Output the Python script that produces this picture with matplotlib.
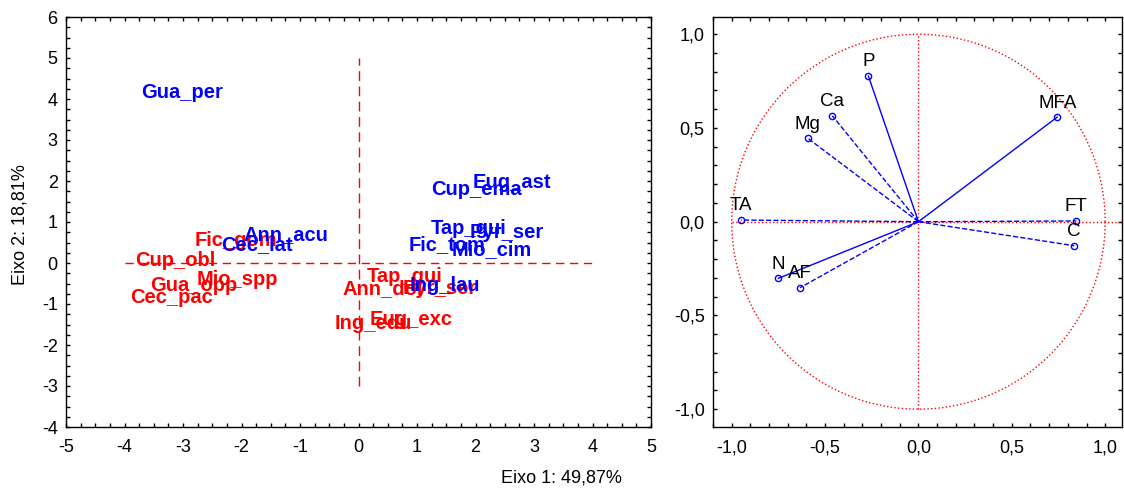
import matplotlib
matplotlib.use('Agg')
import matplotlib.pyplot as plt
import numpy as np
from matplotlib.ticker import MultipleLocator, FuncFormatter

plt.rcParams['font.family'] = ['Liberation Sans', 'DejaVu Sans']

# species scores on the first two axes (blue group)
blue_names = ['Gua_per', 'Eug_ast', 'Cup_ema', 'Tap_gui', 'Pyr_ser', 'Fic_tom',
              'Mio_cim', 'Ann_acu', 'Cec_lat', 'Ing_lau']
blue_x = [-3.71, 1.95, 1.25, 1.23, 1.90, 0.85, 1.59, -1.97, -2.35, 0.88]
blue_y = [4.15, 1.96, 1.80, 0.85, 0.74, 0.44, 0.33, 0.70, 0.46, -0.54]

# species scores (red group)
red_names = ['Fic_gom', 'Cup_obl', 'Gua_opp', 'Mio_spp', 'Cec_pac', 'Tap_gui',
             'Ann_dol', 'Pyr_ser', 'Ing_edu', 'Eug_exc']
red_x = [-2.80, -3.81, -3.57, -2.77, -3.91, 0.14, -0.27, 0.76, -0.41, 0.19]
red_y = [0.54, 0.05, -0.54, -0.41, -0.85, -0.33, -0.62, -0.62, -1.47, -1.39]

# variable loadings for the correlation circle
var_names = ['P', 'Ca', 'Mg', 'MFA', 'TA', 'FT', 'C', 'N', 'AF']
var_x = [-0.268, -0.461, -0.592, 0.743, -0.951, 0.845, 0.834, -0.750, -0.634]
var_y = [0.777, 0.565, 0.445, 0.558, 0.009, 0.004, -0.128, -0.302, -0.352]
var_style = ['-', '--', '--', '-', '--', '--', '--', '-', '--']

fig = plt.figure(figsize=(11.24, 4.88), dpi=100)
ax1 = fig.add_axes([66 / 1124, 1 - 427 / 488, 585 / 1124, 410 / 488])
ax2 = fig.add_axes([713 / 1124, 1 - 427 / 488, 409 / 1124, 410 / 488])

# left panel: species ordination
ax1.plot([-4, 4], [0, 0], color='#ff0000', ls=(0, (6, 4)), lw=1)
ax1.plot([0, 0], [-3, 5], color='#ff0000', ls=(0, (7, 4)), lw=1)
for name, x, y in zip(red_names, red_x, red_y):
    ax1.text(x, y, name, color='#ff0000', fontsize=14.5, fontweight='bold',
             ha='left', va='center')
for name, x, y in zip(blue_names, blue_x, blue_y):
    ax1.text(x, y, name, color='#0000ff', fontsize=14.5, fontweight='bold',
             ha='left', va='center')
ax1.set_xlim(-5, 5)
ax1.set_ylim(-4, 6)
ax1.xaxis.set_major_locator(MultipleLocator(1))
ax1.yaxis.set_major_locator(MultipleLocator(1))
ax1.xaxis.set_minor_locator(MultipleLocator(0.25))
ax1.yaxis.set_minor_locator(MultipleLocator(0.25))
ax1.xaxis.set_major_formatter(FuncFormatter(lambda v, p: '%d' % round(v)))
ax1.yaxis.set_major_formatter(FuncFormatter(lambda v, p: '%d' % round(v)))

# right panel: correlation circle
t = np.linspace(0, 2 * np.pi, 400)
ax2.plot(np.cos(t), np.sin(t), color='red', ls=':', lw=1)
ax2.plot([-1, 1.09], [0, 0], color='red', ls=':', lw=1)
ax2.plot([0, 0], [-1, 1], color='red', ls=':', lw=1)
for name, x, y, s in zip(var_names, var_x, var_y, var_style):
    ax2.plot([0, x], [0, y], color='blue', ls=s, lw=1)
    ax2.plot(x, y, 'o', mfc='none', mec='blue', ms=4.5, mew=1)
    ax2.annotate(name, (x, y), xytext=(0, 4), textcoords='offset points',
                 ha='center', va='bottom', fontsize=13.5)
ax2.set_xlim(-1.10, 1.09)
ax2.set_ylim(-1.095, 1.092)
ax2.xaxis.set_major_locator(MultipleLocator(0.5))
ax2.yaxis.set_major_locator(MultipleLocator(0.5))
ax2.xaxis.set_minor_locator(MultipleLocator(0.1))
ax2.yaxis.set_minor_locator(MultipleLocator(0.1))
comma = FuncFormatter(lambda v, p: ('%.1f' % v).replace('.', ',').replace('-0,0', '0,0'))
ax2.xaxis.set_major_formatter(comma)
ax2.yaxis.set_major_formatter(comma)

for ax in (ax1, ax2):
    ax.tick_params(which='both', direction='in', top=True, right=True,
                   length=3, width=1, labelsize=13, color='black')
    ax.tick_params(axis='x', which='major', pad=9)
    ax.tick_params(axis='y', which='major', pad=6)
    for sp in ax.spines.values():
        sp.set_linewidth(1)

fig.text(20 / 1124, 1 - 225 / 488, 'Eixo 2: 18,81%', rotation=90,
         ha='center', va='center', fontsize=13)
fig.text(561 / 1124, 1 - 478 / 488, 'Eixo 1: 49,87%', ha='center',
         va='center', fontsize=13)

fig.savefig('out.png', dpi=100, facecolor='white')
